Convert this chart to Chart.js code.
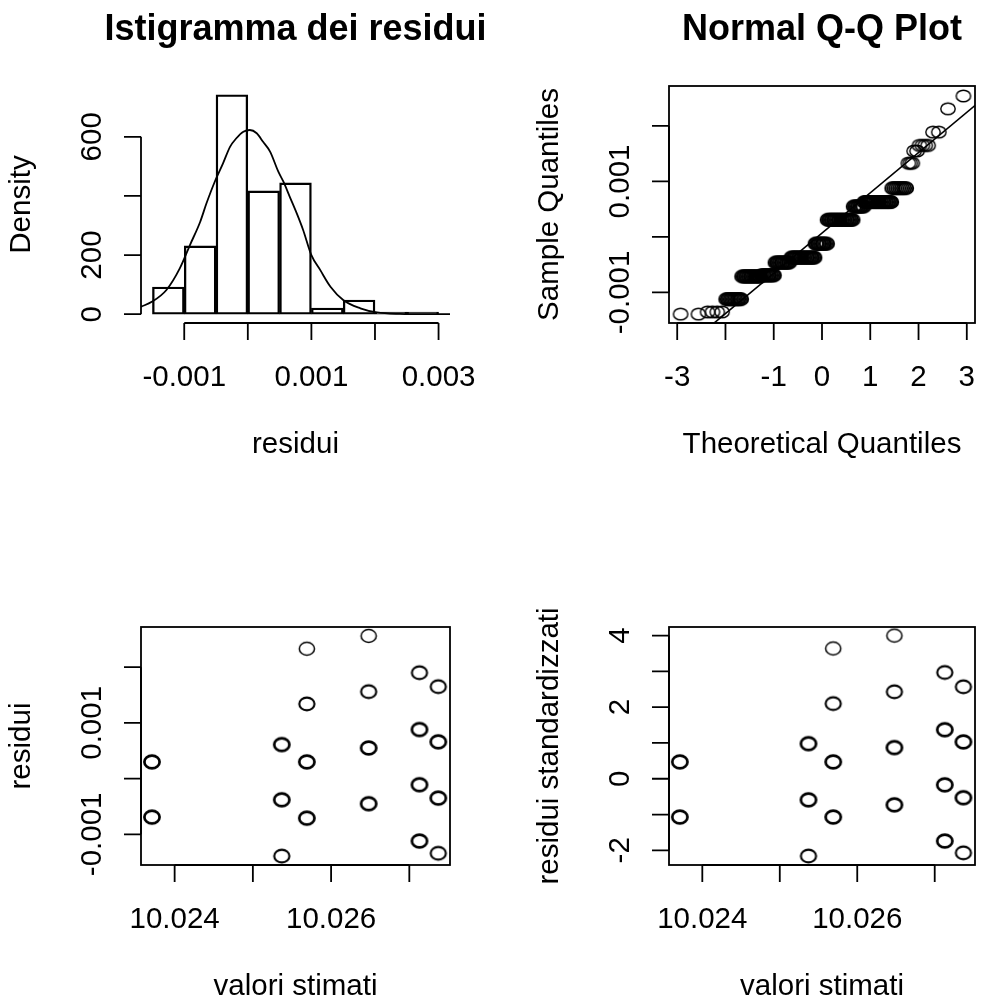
<!DOCTYPE html>
<html>
<head>
<meta charset="utf-8">
<title>Analisi dei residui</title>
<script src="https://cdn.jsdelivr.net/npm/chart.js@4.4.1/dist/chart.umd.min.js"></script>
<style>
  body { margin: 0; background: #fff; }
  #wrap { position: relative; width: 983px; height: 1004px; }
  #wrap canvas { position: absolute; left: 0; top: 0; }
</style>
</head>
<body>
<div id="wrap">
  <canvas id="hist" width="983" height="1004"></canvas>
  <canvas id="qq" width="983" height="1004"></canvas>
  <canvas id="res" width="983" height="1004"></canvas>
  <canvas id="std" width="983" height="1004"></canvas>
</div>
<script>
// =================== Dati ===================
// istogramma: centri delle classi (ampiezza 0.0005) e densità
const histMid = [-0.00125, -0.00075, -0.00025, 0.00025, 0.00075, 0.00125, 0.00175, 0.00225, 0.00275];
const histDens = [92, 231, 742, 417, 444, 21, 48, 7, 7];

// curva di densità sovrapposta
const densX = [-0.00168, -0.00151, -0.00128, -0.00107, -0.00091, -0.00075, -0.00065, -0.00052, -0.00039,
  -0.00028, -0.00018, -0.00007, 0.00003, 0.00014, 0.00024, 0.00035, 0.00048, 0.00056, 0.00066,
  0.00077, 0.00087, 0.00100, 0.00114, 0.00130, 0.00150, 0.00177, 0.00203, 0.00239, 0.00280, 0.00318];
const densY = [25, 42, 82, 155, 234, 312, 375, 448, 510, 566, 595, 617, 623, 612, 583, 550, 482, 448, 397,
  341, 285, 200, 149, 93, 48, 20, 6, 1, 0, 0];

// Q-Q plot: livelli del campione (valori ripetuti) e quantili teorici letti per ciascuno
const qqLevels = [-0.00139, -0.00135, -0.00112, -0.00071, -0.00069, -0.00046, -0.00037, -0.00012,
  0.00031, 0.00055, 0.00063, 0.00088, 0.00133, 0.00155, 0.00165, 0.00189, 0.00231, 0.00254];
const qqTheo = [
  [-2.93, -2.56],
  [-2.37, -2.27, -2.17, -2.07],
  [-1.98, -1.95, -1.92, -1.89, -1.86, -1.83, -1.80, -1.77, -1.74, -1.71, -1.68],
  [-1.65, -1.62, -1.60, -1.57, -1.55, -1.52, -1.50, -1.47, -1.45, -1.42, -1.40, -1.37, -1.35, -1.32, -1.30, -1.28],
  [-1.25, -1.22, -1.20, -1.17, -1.15, -1.12, -1.10, -1.07, -1.05, -1.02, -1.00],
  [-0.96, -0.93, -0.91, -0.88, -0.86, -0.83, -0.81, -0.78, -0.76, -0.73, -0.71, -0.68],
  [-0.63, -0.61, -0.58, -0.56, -0.53, -0.51, -0.48, -0.46, -0.43, -0.41, -0.38, -0.36, -0.33, -0.31,
    -0.28, -0.26, -0.23, -0.21, -0.18, -0.16],
  [-0.13, -0.11, -0.08, -0.06, -0.03, -0.01, 0.02, 0.04, 0.07, 0.10],
  [0.12, 0.15, 0.17, 0.20, 0.22, 0.25, 0.27, 0.30, 0.32, 0.35, 0.37, 0.40, 0.42, 0.45, 0.47, 0.50,
    0.52, 0.55, 0.57, 0.60, 0.63],
  [0.66, 0.69, 0.71, 0.74, 0.76, 0.79, 0.81, 0.84, 0.86],
  [0.88, 0.91, 0.93, 0.96, 0.98, 1.01, 1.03, 1.06, 1.08, 1.11, 1.13, 1.16, 1.18, 1.21, 1.23, 1.26,
    1.28, 1.31, 1.33, 1.36, 1.38, 1.41, 1.43],
  [1.46, 1.50, 1.54, 1.58, 1.62, 1.66, 1.70, 1.74],
  [1.79, 1.83, 1.87],
  [1.91, 1.97],
  [2.02, 2.08, 2.14, 2.20],
  [2.30, 2.42],
  [2.61],
  [2.93]
];
// retta qqline (estremi)
const qqLineX = [-3.2, 3.2];
const qqLineY = [-0.00225, 0.00239];

// valori stimati, residui, residui standardizzati, n. osservazioni sovrapposte
const fitX = [10.02371, 10.02371, 10.02537, 10.02537, 10.02537, 10.02569, 10.02569, 10.02569, 10.02569,
  10.02648, 10.02648, 10.02648, 10.02648, 10.02713, 10.02713, 10.02713, 10.02713,
  10.02737, 10.02737, 10.02737, 10.02737];
const resid = [0.00030, -0.00069, 0.00061, -0.00038, -0.00139, 0.00233, 0.00134, 0.00030, -0.00071,
  0.00256, 0.00156, 0.00055, -0.00045, 0.00190, 0.00088, -0.00011, -0.00112,
  0.00165, 0.00066, -0.00035, -0.00134];
const stdRes = [0.47, -1.07, 0.98, -0.59, -2.16, 3.64, 2.10, 0.47, -1.07,
  4.00, 2.43, 0.87, -0.73, 2.97, 1.37, -0.17, -1.74,
  2.57, 1.03, -0.53, -2.07];
const nObs = [7, 6, 6, 7, 2, 1, 3, 7, 8, 1, 2, 5, 7, 2, 6, 7, 7, 4, 6, 6, 4];

// tick e etichette degli assi
const histXTicks = [-0.001, 0, 0.001, 0.002, 0.003];
const histXLabels = ["-0.001", "", "0.001", "", "0.003"];
const histYTicks = [0, 200, 400, 600];
const histYLabels = ["0", "200", "", "600"];
const qqXTicks = [-3, -2, -1, 0, 1, 2, 3];
const qqXLabels = ["-3", "", "-1", "0", "1", "2", "3"];
const resYTicks = [-0.001, 0, 0.001, 0.002];
const resYLabels = ["-0.001", "", "0.001", ""];
const fitXTicks = [10.024, 10.025, 10.026, 10.027];
const fitXLabels = ["10.024", "", "10.026", ""];
const stdYTicks = [-2, -1, 0, 1, 2, 3, 4];
const stdYLabels = ["-2", "", "0", "", "2", "", "4"];

// =================== Helpers ===================
const FONT = '"Liberation Sans", Arial, Helvetica, sans-serif';
const TCK = 17;

// cerchietto stile R (pch = 1)
function anello(lw, rx, ry) {
  const c = document.createElement("canvas");
  c.width = 24; c.height = 22;
  const g = c.getContext("2d");
  g.strokeStyle = "#000";
  g.lineWidth = lw;
  g.beginPath();
  g.ellipse(12, 11, rx, ry, 0, 0, Math.PI * 2);
  g.stroke();
  return c;
}
const anelliQQ = { sottile: anello(1.4, 7.2, 5.8), spesso: anello(2.0, 7.2, 6.0) };
const anelli = { sottile: anello(1.5, 7.6, 6.4), medio: anello(2.1, 7.6, 6.4), spesso: anello(2.7, 7.6, 6.4) };
function anelloPer(n) {
  if (n >= 5) return anelli.spesso;
  if (n >= 2) return anelli.medio;
  return anelli.sottile;
}

// assi alla R: tacche verso l'esterno, etichette parallele all'asse
function assiR(cfg) {
  return {
    id: "assiR",
    afterDraw(chart) {
      const { ctx, chartArea: a, scales: { x, y } } = chart;
      ctx.save();
      ctx.strokeStyle = "#000";
      ctx.fillStyle = "#000";
      ctx.lineWidth = 1.8;
      if (cfg.box) ctx.strokeRect(a.left, a.top, a.right - a.left, a.bottom - a.top);

      const xs = cfg.xTicks.map(v => x.getPixelForValue(v));
      const ys = cfg.yTicks.map(v => y.getPixelForValue(v));
      ctx.beginPath();
      ctx.moveTo(xs[0], a.bottom);
      ctx.lineTo(xs[xs.length - 1], a.bottom);
      xs.forEach(p => { ctx.moveTo(p, a.bottom); ctx.lineTo(p, a.bottom + TCK); });
      ctx.moveTo(a.left, ys[0]);
      ctx.lineTo(a.left, ys[ys.length - 1]);
      ys.forEach(p => { ctx.moveTo(a.left, p); ctx.lineTo(a.left - TCK, p); });
      ctx.stroke();

      const cx = (a.left + a.right) / 2;
      const cy = (a.top + a.bottom) / 2;
      ctx.font = `29.5px ${FONT}`;
      ctx.textAlign = "center";
      ctx.textBaseline = "middle";
      cfg.xLabels.forEach((t, i) => { if (t) ctx.fillText(t, xs[i], a.bottom + 55); });
      ctx.fillText(cfg.xTitle, cx, a.bottom + 122);

      ctx.save();
      ctx.translate(a.left - 48, 0);
      ctx.rotate(-Math.PI / 2);
      cfg.yLabels.forEach((t, i) => { if (t) ctx.fillText(t, -ys[i], 0); });
      ctx.restore();

      ctx.save();
      ctx.translate(a.left - 119, cy);
      ctx.rotate(-Math.PI / 2);
      ctx.fillText(cfg.yTitle, 0, 0);
      ctx.restore();

      if (cfg.title) {
        ctx.font = `bold 36px ${FONT}`;
        ctx.fillText(cfg.title, cx, 30);
      }
      ctx.restore();
    }
  };
}

function opzioni(pad, xr, yr) {
  return {
    responsive: false,
    animation: false,
    devicePixelRatio: 1,
    layout: { padding: pad },
    plugins: { legend: { display: false }, tooltip: { enabled: false }, title: { display: false } },
    scales: {
      x: { type: "linear", display: false, offset: false, bounds: "data", min: xr[0], max: xr[1] },
      y: { type: "linear", display: false, bounds: "data", beginAtZero: false, min: yr[0], max: yr[1] }
    }
  };
}

// =================== Istogramma ===================
new Chart(document.getElementById("hist"), {
  type: "bar",
  data: {
    datasets: [
      {
        type: "bar",
        data: histMid.map((m, i) => ({ x: m, y: histDens[i] })),
        backgroundColor: "rgba(0,0,0,0)",
        borderColor: "#000",
        borderWidth: 1.7,
        borderSkipped: false,
        barPercentage: 1,
        categoryPercentage: 1
      },
      {
        type: "line",
        data: densX.map((v, i) => ({ x: v, y: densY[i] })),
        borderColor: "#000",
        borderWidth: 1.8,
        pointRadius: 0,
        cubicInterpolationMode: "monotone",
        fill: false
      }
    ]
  },
  options: opzioni({ left: 141, top: 86, right: 533, bottom: 681 }, [-0.00168, 0.00318], [-29.7, 771.7]),
  plugins: [assiR({
    title: "Istigramma dei residui", xTitle: "residui", yTitle: "Density",
    xTicks: histXTicks, xLabels: histXLabels, yTicks: histYTicks, yLabels: histYLabels
  })]
});

// =================== Normal Q-Q ===================
const qqPunti = [];
const qqStile = [];
qqTheo.forEach((xs, k) => xs.forEach(t => {
  qqPunti.push({ x: t, y: qqLevels[k] });
  qqStile.push(xs.length >= 5 ? anelliQQ.spesso : anelliQQ.sottile);
}));

new Chart(document.getElementById("qq"), {
  type: "scatter",
  data: {
    datasets: [
      {
        data: qqPunti,
        pointStyle: (c) => qqStile[c.dataIndex],
        pointRadius: 7
      },
      {
        data: qqLineX.map((v, i) => ({ x: v, y: qqLineY[i] })),
        showLine: true,
        borderColor: "#000",
        borderWidth: 1.6,
        pointRadius: 0
      }
    ]
  },
  options: opzioni({ left: 669, top: 86, right: 4, bottom: 681 }, [-3.17, 3.17], [-0.00155, 0.00272]),
  plugins: [assiR({
    box: true, title: "Normal Q-Q Plot", xTitle: "Theoretical Quantiles", yTitle: "Sample Quantiles",
    xTicks: qqXTicks, xLabels: qqXLabels, yTicks: resYTicks, yLabels: resYLabels
  })]
});

// =================== Residui vs valori stimati ===================
new Chart(document.getElementById("res"), {
  type: "scatter",
  data: {
    datasets: [{
      data: fitX.map((v, i) => ({ x: v, y: resid[i] })),
      pointStyle: (c) => anelloPer(nObs[c.dataIndex]),
      pointRadius: 7
    }]
  },
  options: opzioni({ left: 141, top: 627, right: 533, bottom: 139 }, [10.02357, 10.02752], [-0.00155, 0.00272]),
  plugins: [assiR({
    box: true, xTitle: "valori stimati", yTitle: "residui",
    xTicks: fitXTicks, xLabels: fitXLabels, yTicks: resYTicks, yLabels: resYLabels
  })]
});

// =================== Residui standardizzati ===================
new Chart(document.getElementById("std"), {
  type: "scatter",
  data: {
    datasets: [{
      data: fitX.map((v, i) => ({ x: v, y: stdRes[i] })),
      pointStyle: (c) => anelloPer(nObs[c.dataIndex]),
      pointRadius: 7
    }]
  },
  options: opzioni({ left: 669, top: 627, right: 4, bottom: 139 }, [10.02357, 10.02752], [-2.41, 4.24]),
  plugins: [assiR({
    box: true, xTitle: "valori stimati", yTitle: "residui standardizzati",
    xTicks: fitXTicks, xLabels: fitXLabels, yTicks: stdYTicks, yLabels: stdYLabels
  })]
});
</script>
</body>
</html>
